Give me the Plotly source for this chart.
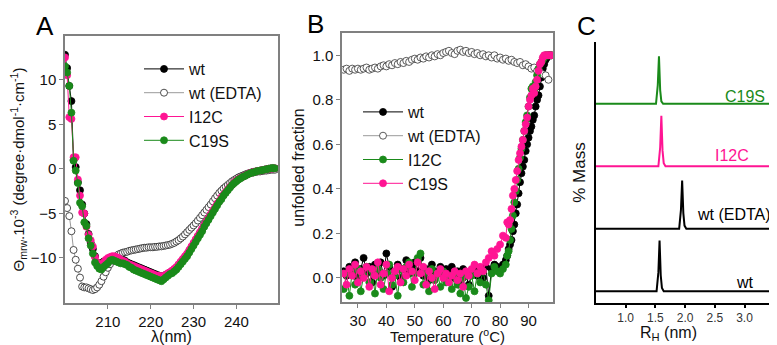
import plotly.graph_objects as go

# ---------------- Panel A: CD spectra ----------------
wavelength_nm = [200 + 0.5 * i for i in range(99)]
cd_wt = [12.8, 11.3, 9.3, 7.6, 1.0, 0.2, -1.5, -2.4, -4.0, -5.0,
         -6.2, -7.3, -8.3, -9.0, -9.8, -10.5, -10.8, -10.6, -10.4, -10.3,
         -10.2, -10.1, -10.0, -9.9, -9.9, -10.0, -10.1, -10.2, -10.3, -10.5,
         -10.6, -10.7, -10.8, -10.9, -11.0, -11.1, -11.2, -11.3, -11.4, -11.5,
         -11.6, -11.7, -11.8, -11.9, -12.0, -12.1, -12.0, -11.9, -11.8, -11.6,
         -11.5, -11.3, -11.1, -10.8, -10.5, -10.2, -9.9, -9.6, -9.2, -8.8,
         -8.4, -8.0, -7.6, -7.2, -6.8, -6.3, -5.9, -5.5, -5.1, -4.7,
         -4.3, -3.9, -3.5, -3.2, -2.9, -2.5, -2.2, -2.0, -1.7, -1.5,
         -1.3, -1.1, -1.0, -0.85, -0.75, -0.6, -0.5, -0.4, -0.35, -0.3,
         -0.25, -0.2, -0.15, -0.1, -0.05, 0.0, 0.05, 0.05, 0.05]
cd_wt_edta = [-3.6, -4.4, -5.3, -7.0, -9.1, -10.2, -11.2, -12.2, -13.2, -13.3,
              -13.3, -13.4, -13.5, -13.6, -13.5, -13.3, -13.0, -12.6, -12.1, -11.6,
              -11.1, -10.7, -10.3, -10.0, -9.8, -9.6, -9.5, -9.4, -9.35, -9.3,
              -9.2, -9.15, -9.1, -9.05, -9.0, -8.95, -8.9, -8.85, -8.85, -8.8,
              -8.8, -8.8, -8.75, -8.75, -8.7, -8.7, -8.65, -8.6, -8.55, -8.5,
              -8.4, -8.3, -8.15, -8.0, -7.8, -7.6, -7.35, -7.1, -6.85, -6.6,
              -6.35, -6.1, -5.8, -5.5, -5.2, -4.9, -4.6, -4.3, -4.0, -3.65,
              -3.3, -3.0, -2.7, -2.45, -2.2, -2.0, -1.8, -1.6, -1.4, -1.25,
              -1.1, -0.95, -0.85, -0.75, -0.65, -0.55, -0.5, -0.45, -0.4, -0.35,
              -0.3, -0.3, -0.25, -0.2, -0.2, -0.15, -0.1, -0.1, -0.1]
cd_i12c = [12.5, 10.5, 5.8, 5.6, 1.3, 1.3, -1.2, -3.0, -4.9, -5.0,
           -6.5, -7.4, -8.0, -8.7, -9.9, -10.5, -10.9, -10.7, -10.5, -10.2,
           -10.0, -9.9, -9.8, -9.8, -9.9, -10.0, -10.2, -10.3, -10.4, -10.6,
           -10.7, -10.8, -10.9, -11.0, -11.1, -11.2, -11.3, -11.4, -11.5, -11.6,
           -11.7, -11.8, -11.9, -12.0, -12.0, -12.1, -12.0, -11.9, -11.7, -11.6,
           -11.4, -11.2, -11.0, -10.7, -10.4, -10.1, -9.8, -9.5, -9.1, -8.7,
           -8.3, -7.9, -7.5, -7.1, -6.7, -6.3, -5.9, -5.5, -5.1, -4.7,
           -4.3, -3.9, -3.6, -3.2, -2.9, -2.6, -2.3, -2.0, -1.8, -1.5,
           -1.3, -1.15, -1.0, -0.9, -0.75, -0.65, -0.5, -0.45, -0.35, -0.3,
           -0.25, -0.2, -0.15, -0.1, -0.05, 0.0, 0.0, 0.05, 0.05]
cd_c19s = [11.5, 10.8, 9.3, 6.3, 0.9, -0.2, -1.6, -3.8, -4.2, -6.0,
           -6.4, -7.8, -8.6, -9.5, -10.5, -10.9, -11.2, -11.3, -11.0, -10.8,
           -10.6, -10.3, -10.2, -10.3, -10.4, -10.5, -10.6, -10.6, -10.7, -10.8,
           -11.0, -11.1, -11.3, -11.4, -11.5, -11.6, -11.7, -11.8, -11.9, -12.0,
           -12.1, -12.2, -12.3, -12.4, -12.5, -12.6, -12.4, -12.2, -12.0, -11.8,
           -11.7, -11.5, -11.3, -11.0, -10.7, -10.4, -10.1, -9.8, -9.4, -9.0,
           -8.6, -8.2, -7.8, -7.4, -7.0, -6.5, -6.1, -5.7, -5.3, -4.9,
           -4.5, -4.1, -3.7, -3.4, -3.0, -2.7, -2.4, -2.1, -1.8, -1.6,
           -1.4, -1.2, -1.05, -0.9, -0.8, -0.65, -0.55, -0.45, -0.4, -0.3,
           -0.25, -0.2, -0.15, -0.1, -0.05, 0.0, 0.05, 0.1, 0.05]

# ---------------- Panel B: thermal unfolding ----------------
temp_native = list(range(25, 83)) + [82.5 + 0.5 * i for i in range(32)]
temp_edta = list(range(25, 98))
unf_wt = [0.03, 0.01, 0.05, 0.02, 0.07, 0.00, 0.04, 0.09, 0.02, 0.05,
          -0.02, 0.06, 0.03, 0.07, 0.01, 0.11, 0.05, -0.04, 0.03, 0.06,
          0.00, 0.04, 0.08, 0.02, 0.05, 0.07, 0.03, 0.09, 0.01, 0.04,
          -0.01, 0.06, 0.03, 0.02, 0.05, 0.01, 0.04, 0.02, 0.05, 0.00,
          0.03, -0.02, 0.04, 0.01, -0.03, 0.02, 0.04, 0.01, 0.03, 0.00,
          0.05, -0.08, 0.04, 0.06, 0.05, 0.04, 0.06, 0.08,
          0.10, 0.13, 0.15, 0.17, 0.21, 0.24, 0.29, 0.33, 0.38, 0.43,
          0.47, 0.50, 0.53, 0.57, 0.60, 0.63, 0.66, 0.68, 0.71, 0.73,
          0.77, 0.80, 0.82, 0.86, 0.90, 0.94, 0.96, 0.98, 0.99, 1.0, 1.0, 1.0]
unf_wt_edta = [0.935, 0.94, 0.93, 0.94, 0.935, 0.94, 0.935, 0.94, 0.945, 0.935,
               0.94, 0.945, 0.94, 0.95, 0.955, 0.95, 0.96, 0.955, 0.965, 0.96,
               0.97, 0.965, 0.975, 0.97, 0.98, 0.985, 0.98, 0.99, 0.985, 0.995,
               0.99, 1.0, 0.995, 1.005, 1.0, 1.01, 1.015, 1.02, 1.01, 1.005,
               1.02, 1.025, 1.015, 1.02, 1.01, 1.015, 1.005, 1.01, 1.0, 1.005,
               0.995, 1.0, 0.99, 1.0, 0.985, 0.99, 0.98, 0.985, 0.975, 0.98,
               0.97, 0.965, 0.97, 0.955, 0.96, 0.95, 0.94, 0.945, 0.93, 0.925,
               0.915, 0.91, 0.89]
unf_i12c = [-0.05, 0.02, -0.08, 0.03, -0.03, 0.04, -0.06, 0.01, 0.05, -0.02,
            0.03, -0.07, 0.04, 0.00, -0.05, 0.02, 0.06, -0.03, 0.01, -0.08,
            0.04, -0.02, 0.05, 0.07, -0.04, 0.02, 0.09, 0.11, -0.03, 0.03,
            -0.06, 0.04, -0.01, 0.02, -0.04, 0.03, -0.02, 0.01, -0.05, 0.02,
            -0.03, -0.07, 0.00, -0.09, -0.04, 0.01, -0.06, 0.02, -0.02, 0.03,
            -0.03, -0.10, 0.02, 0.05, 0.03, 0.02, 0.04, 0.06,
            0.10, 0.12, 0.17, 0.22, 0.28, 0.34, 0.39, 0.44, 0.49, 0.54,
            0.58, 0.62, 0.66, 0.70, 0.73, 0.77, 0.81, 0.85, 0.86, 0.84,
            0.88, 0.91, 0.94, 0.96, 0.97, 0.98, 0.99, 1.0, 1.0, 1.0, 1.0, 1.0]
unf_c19s = [0.02, -0.03, 0.04, 0.01, 0.06, -0.02, 0.03, 0.00, 0.05, -0.04,
            0.04, 0.01, 0.07, -0.03, 0.02, 0.06, -0.06, 0.00, 0.03, 0.05,
            -0.02, 0.04, 0.01, 0.06, 0.03, -0.01, 0.07, 0.02, 0.05, -0.03,
            0.03, 0.00, -0.05, 0.02, 0.04, 0.00, 0.02, -0.02, 0.01, 0.03,
            -0.01, 0.02, -0.04, 0.03, 0.01, 0.04, 0.06, 0.02, 0.05, 0.03,
            0.07, 0.09, 0.12, 0.10, 0.13, 0.15, 0.19, 0.18,
            0.25, 0.24, 0.26, 0.31, 0.37, 0.40, 0.44, 0.48, 0.53, 0.56,
            0.59, 0.62, 0.66, 0.69, 0.72, 0.77, 0.80, 0.82, 0.85, 0.83,
            0.86, 0.89, 0.93, 0.96, 0.97, 0.99, 1.0, 1.0, 1.0, 1.0, 1.0, 1.0]

# ---------------- Panel C: DLS size distributions ----------------
rh_wt = [0.5, 1.52, 1.55, 1.57, 1.59, 1.61, 1.64, 3.5]
mass_wt = [0, 0, 0.30, 0.81, 0.25, 0.05, 0, 0]
rh_wt_edta = [0.5, 1.90, 1.93, 1.95, 1.97, 1.99, 2.02, 3.5]
mass_wt_edta = [0, 0, 0.30, 0.77, 0.25, 0.05, 0, 0]
rh_i12c = [0.5, 1.55, 1.58, 1.60, 1.62, 1.64, 1.67, 3.5]
mass_i12c = [0, 0, 0.30, 0.81, 0.25, 0.05, 0, 0]
rh_c19s = [0.5, 1.51, 1.54, 1.56, 1.58, 1.60, 1.63, 3.5]
mass_c19s = [0, 0, 0.30, 0.76, 0.22, 0.04, 0, 0]

BLACK = "#000000"
PINK = "#FF1493"
GREEN = "#1A8A1A"
GREY_LINE = "#9a9a9a"
FONT = "Arial, Liberation Sans, sans-serif"

fig = go.Figure()

def add_line(x, y, name, color, xa, ya, lg, lcolor=None, fill=None):
    fig.add_trace(go.Scatter(
        x=x, y=y, name=name, mode="lines+markers", xaxis=xa, yaxis=ya, legend=lg,
        line=dict(color=lcolor or color, width=1),
        marker=dict(size=7, color=fill or color, line=dict(color=color, width=0.8))))

# Panel A
add_line(wavelength_nm, cd_wt, "wt", BLACK, "x", "y", "legend")
add_line(wavelength_nm, cd_wt_edta, "wt (EDTA)", "#222222", "x", "y", "legend",
         lcolor=GREY_LINE, fill="white")
add_line(wavelength_nm, cd_i12c, "I12C", PINK, "x", "y", "legend")
add_line(wavelength_nm, cd_c19s, "C19S", GREEN, "x", "y", "legend")

# Panel B
add_line(temp_native, unf_wt, "wt", BLACK, "x2", "y2", "legend2")
add_line(temp_edta, unf_wt_edta, "wt (EDTA)", "#333333", "x2", "y2", "legend2",
         lcolor=GREY_LINE, fill="white")
add_line(temp_native, unf_i12c, "I12C", GREEN, "x2", "y2", "legend2")
add_line(temp_native, unf_c19s, "C19S", PINK, "x2", "y2", "legend2")

# Panel C (stacked profiles)
profiles = [(rh_wt, mass_wt, BLACK, "wt"),
            (rh_wt_edta, mass_wt_edta, BLACK, "wt (EDTA)"),
            (rh_i12c, mass_i12c, PINK, "I12C"),
            (rh_c19s, mass_c19s, GREEN, "C19S")]
for k, (xr, ym, col, nm) in enumerate(profiles):
    fig.add_trace(go.Scatter(
        x=xr, y=[v + k for v in ym], mode="lines", xaxis="x3", yaxis="y3",
        showlegend=False, line=dict(color=col, width=2), name=nm))

# page has an 8px body margin: map reference pixel positions into the figure
OFF = 8
W, H = 777 - OFF, 345 - OFF
def px(x):
    return (x - OFF) / W
def py(y):
    return 1 - (y - OFF) / H

tick_font = dict(family=FONT, size=15, color="#111")
frame = dict(showline=True, linecolor="#808080", linewidth=1.5, mirror=True,
             ticks="outside", ticklen=4, tickcolor="#808080", showgrid=False,
             zeroline=False, tickfont=tick_font)

fig.update_layout(
    width=W, height=H, margin=dict(l=0, r=0, t=0, b=0),
    paper_bgcolor="white", plot_bgcolor="white",
    font=dict(family=FONT, color="#111"),
    xaxis=dict(domain=[px(65), px(278)], range=[200, 249.7], anchor="y",
               tickvals=[210, 220, 230, 240],
               title=dict(text="λ(nm)", font=dict(size=16), standoff=2), **frame),
    yaxis=dict(domain=[py(303), py(36)], range=[-15.05, 14.9], anchor="x",
               tickvals=[-10, -5, 0, 5, 10],
               title=dict(text="Θ<sub>mrw</sub>.10<sup>-3</sup> (degree·dmol<sup>-1</sup>·cm<sup>-1</sup>)",
                          font=dict(size=15), standoff=4), **frame),
    xaxis2=dict(domain=[px(342), px(553)], range=[24.4, 98.6], anchor="y2",
                tickvals=[30, 40, 50, 60, 70, 80, 90],
                title=dict(text="Temperature (<sup>o</sup>C)", font=dict(size=15), standoff=2), **frame),
    yaxis2=dict(domain=[py(302), py(33)], range=[-0.108, 1.10], anchor="x2",
                tickvals=[0, 0.2, 0.4, 0.6, 0.8, 1.0], tickformat=".1f",
                title=dict(text="unfolded fraction", font=dict(size=16), standoff=4), **frame),
    xaxis3=dict(domain=[px(596), px(776)], range=[0.5, 3.53], anchor="y3",
                showline=True, linecolor="#000", linewidth=2, ticks="outside", ticklen=3,
                tickcolor="#000", tickwidth=1.5, showgrid=False, zeroline=False,
                tickvals=[1.0, 1.5, 2.0, 2.5, 3.0], tickformat=".1f",
                tickfont=dict(family=FONT, size=12, color="#333")),
    yaxis3=dict(domain=[py(303), py(42)], range=[-0.19, 3.99], anchor="x3",
                showline=True, linecolor="#000", linewidth=2, ticks="",
                showticklabels=False, showgrid=False, zeroline=False,
                title=dict(text="% Mass", font=dict(size=17), standoff=4)),
    legend=dict(x=px(139), y=py(52), xanchor="left", yanchor="top",
                bgcolor="rgba(0,0,0,0)", font=dict(family=FONT, size=16, color="#111"),
                tracegroupgap=0, itemwidth=40),
    legend2=dict(x=px(358), y=py(95), xanchor="left", yanchor="top",
                 bgcolor="rgba(0,0,0,0)", font=dict(family=FONT, size=16, color="#111"),
                 tracegroupgap=0, itemwidth=40),
    showlegend=True,
)

for t, xc, yc in [("A", 45, 26), ("B", 315, 24), ("C", 586, 26)]:
    fig.add_annotation(text=t, x=px(xc), y=py(yc), xref="paper", yref="paper",
                       showarrow=False, font=dict(family=FONT, size=26, color="#000"),
                       xanchor="center", yanchor="middle")

# x-axis title of panel C
fig.add_annotation(text="R<sub>H</sub> (nm)", x=px(668), y=0, xref="paper", yref="paper",
                   showarrow=False, xanchor="center", yanchor="bottom",
                   font=dict(family=FONT, size=16, color="#111"))

labels_c = [("C19S", GREEN, 767, 96), ("I12C", PINK, 751, 155),
            ("wt (EDTA)", BLACK, 773, 214), ("wt", BLACK, 756, 282)]
for t, col, xr, yc in labels_c:
    fig.add_annotation(text=t, x=px(xr), y=py(yc), xref="paper", yref="paper",
                       showarrow=False, xanchor="right", yanchor="middle",
                       font=dict(family=FONT, size=16, color=col))

fig.write_html("out.html")
